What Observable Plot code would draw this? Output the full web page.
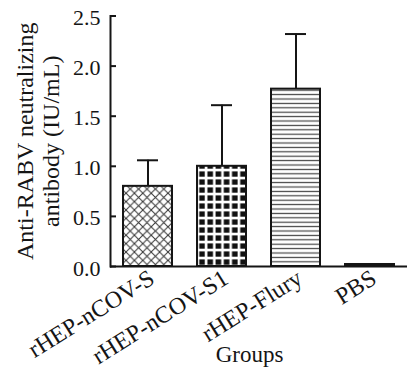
<!DOCTYPE html>
<html><head><meta charset="utf-8">
<script src="https://cdn.jsdelivr.net/npm/d3@7"></script>
<script src="https://cdn.jsdelivr.net/npm/@observablehq/plot@0.6"></script>
<style>body{margin:0;background:#fff} svg{display:block}</style>
</head><body><div id="chart"></div>
<script>
const groups = ["rHEP-nCOV-S", "rHEP-nCOV-S1", "rHEP-Flury", "PBS"];
const means = [0.80, 1.00, 1.77, 0.02];
const uppers = [1.06, 1.61, 2.32, null];
const yTicks = [0, 0.5, 1.0, 1.5, 2.0, 2.5];
const yLabel = "Anti-RABV neutralizing\nantibody (IU/mL)";
const xLabel = "Groups";

const fillFor = {"rHEP-nCOV-S": "url(#pCross)", "rHEP-nCOV-S1": "url(#pGrid)", "rHEP-Flury": "url(#pLines)", "PBS": "#111"};
const data = groups.map((g, i) => ({group: g, mean: means[i], upper: uppers[i]}));
const errData = data.filter(d => d.upper != null);
const font = '"Liberation Serif","Times New Roman",serif';
const ink = "#151515";
const W = 407, ML = 110, MR = 0;

const plot = Plot.plot({
  width: W, height: 370,
  marginLeft: ML, marginRight: MR, marginTop: 15.5, marginBottom: 104,
  style: {fontFamily: font, fontSize: "20px", color: ink, background: "#fff", overflow: "visible"},
  x: {domain: groups, paddingInner: 0.333, paddingOuter: 0.156, axis: null},
  y: {domain: [0, 2.5], axis: null},
  marks: [
    ...groups.map(g => Plot.barY(data.filter(d => d.group === g), {x: "group", y: "mean", fill: fillFor[g], stroke: ink, strokeWidth: 2})),
    Plot.ruleX(errData, {x: "group", y1: "mean", y2: "upper", stroke: ink, strokeWidth: 2}),
    Plot.tickY(errData, {x: "group", y: "upper", stroke: ink, strokeWidth: 2, inset: 14}),
    Plot.frame({anchor: "left", stroke: ink, strokeWidth: 2}),
    Plot.ruleY([0], {stroke: ink, strokeWidth: 2}),
    Plot.tickY(yTicks, {y: d => d, insetRight: W - ML - MR - 6, stroke: ink, strokeWidth: 2}),
    Plot.axisY({ticks: yTicks, tickFormat: d3.format(".1f"), tickSize: 0, tickPadding: 10, label: null, fontSize: 22, dy: 2}),
    Plot.text(data, {x: "group", frameAnchor: "bottom", text: "group", rotate: -32, textAnchor: "end", lineAnchor: "bottom", dx: 8, dy: 16, fontSize: 24, fill: ink}),
    Plot.text([xLabel], {frameAnchor: "bottom", dx: -9.5, dy: 95, lineAnchor: "bottom", fontSize: 23, fill: ink}),
    Plot.text([yLabel], {frameAnchor: "left", rotate: -90, textAnchor: "middle", dx: -52, lineAnchor: "bottom", lineHeight: 1.05, fontSize: 24, fill: ink})
  ]
});

const defs = d3.select(plot).insert("defs", ":first-child");
const p1 = defs.append("pattern").attr("id", "pCross").attr("patternUnits", "userSpaceOnUse").attr("width", 8.4).attr("height", 8.4);
p1.append("rect").attr("width", 8.4).attr("height", 8.4).attr("fill", "#fff");
p1.append("path").attr("d", "M-1,-1L9.4,9.4M9.4,-1L-1,9.4").attr("stroke", "#333").attr("stroke-width", 1);
const p2 = defs.append("pattern").attr("id", "pGrid").attr("patternUnits", "userSpaceOnUse").attr("width", 8.2).attr("height", 8).attr("x", 1).attr("y", 2);
p2.append("rect").attr("width", 8.2).attr("height", 8).attr("fill", "#fff");
p2.append("rect").attr("x", 1.4).attr("y", 1.4).attr("width", 5.6).attr("height", 5.3).attr("fill", "#111");
const p3 = defs.append("pattern").attr("id", "pLines").attr("patternUnits", "userSpaceOnUse").attr("width", 10).attr("height", 4.4);
p3.append("rect").attr("width", 10).attr("height", 4.4).attr("fill", "#fff");
p3.append("rect").attr("y", 1.6).attr("width", 10).attr("height", 1.2).attr("fill", "#444");

document.getElementById("chart").appendChild(plot);
</script>
</body></html>
